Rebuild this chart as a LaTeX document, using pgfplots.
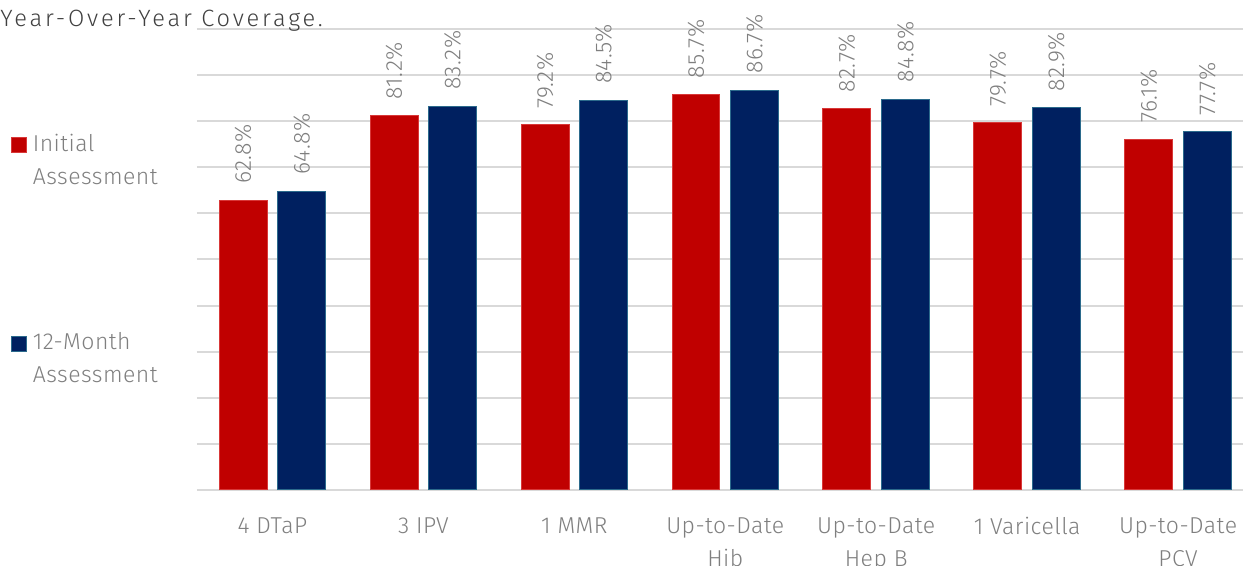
\documentclass[border=0pt]{standalone}
\usepackage{fontspec}
\setmainfont{Fira Sans}[UprightFont={* Light}, LetterSpace=2]
\newfontfamily\titlefont{Fira Sans}[UprightFont={* Light}, LetterSpace=12]
\usepackage{pgfplots}
\pgfplotsset{compat=1.18}
\definecolor{barred}{HTML}{C00000}
\definecolor{barnavy}{HTML}{002060}
\definecolor{navyedge}{HTML}{2B6A8C}
\definecolor{rededge}{HTML}{D83838}
\definecolor{gridgray}{HTML}{D9D9D9}
\definecolor{txtgray}{HTML}{7F7F7F}
\definecolor{titlegray}{HTML}{404040}

\begin{document}
\begin{tikzpicture}[font=\fontsize{11.5}{16.5}\selectfont]
\begin{axis}[
  at={(0,0)}, anchor=south west,
  width=523pt, height=230.5pt, scale only axis,
  xmin=-0.5, xmax=6.43, ymin=0, ymax=100,
  ybar, bar width=0.318,
  ytick={0,10,...,100}, yticklabels={}, ymajorgrids,
  grid style={gridgray, line width=1pt},
  axis line style={draw=none}, tick style={draw=none},
  xtick={0,...,6},
  xticklabels={4 DTaP, 3 IPV, 1 MMR, Up-to-Date\\Hib, Up-to-Date\\Hep B, 1 Varicella, Up-to-Date\\PCV},
  xticklabel style={align=center, text=txtgray, yshift=-6pt},
  clip=false,
  /pgf/number format/assume math mode=true,
  nodes near coords={\pgfmathprintnumber[fixed,fixed zerofill,precision=1]{\pgfplotspointmeta}\%},
  every node near coord/.append style={rotate=90, anchor=west, text=txtgray, inner xsep=8pt},
  legend style={at={(axis description cs:-0.184,0.79)}, anchor=north west,
    draw=none, fill=none, row sep=68.5pt, column sep=1pt,
    cells={align=left, text=txtgray}},
  legend cell align=left,
  legend image code/.code={\draw[#1, line width=0.5pt] (0pt,4pt) rectangle (7.5pt,11.5pt);},
]
\addplot[fill=barred, draw=rededge, line width=0.5pt, bar shift=-0.194]
  coordinates {(0,62.8) (1,81.2) (2,79.2) (3,85.7) (4,82.7) (5,79.7) (6,76.1)};
\addlegendentry{Initial\\Assessment}
\addplot[fill=barnavy, draw=navyedge, line width=0.5pt, bar shift=0.194]
  coordinates {(0,64.8) (1,83.2) (2,84.5) (3,86.7) (4,84.8) (5,82.9) (6,77.7)};
\addlegendentry{12-Month\\Assessment}
\end{axis}
\node[anchor=base west, text=titlegray, inner sep=0pt, font=\titlefont\fontsize{11.8}{14}\selectfont] at (-98.5pt,231.5pt) {Year-Over-Year Coverage.};
\pgfresetboundingbox
\path[use as bounding box] (-98.5pt,-38pt) rectangle (523pt,245pt);
\end{tikzpicture}
\end{document}
